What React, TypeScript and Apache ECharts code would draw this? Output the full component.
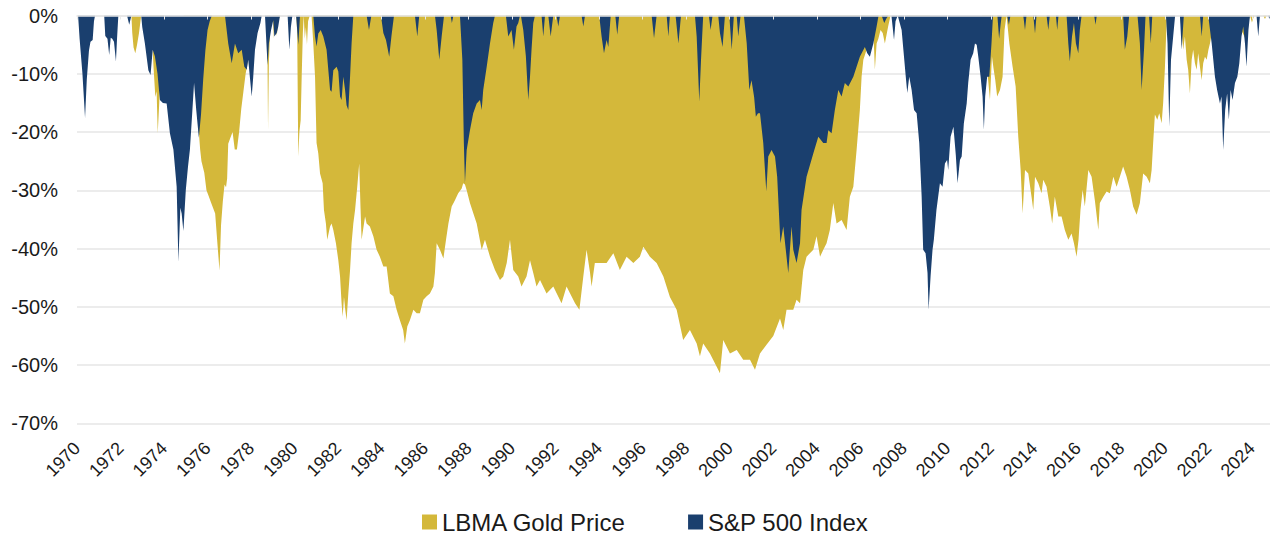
import React, { useEffect, useRef } from "react";
import * as echarts from "echarts";

// ---- Data (drawdown from previous peak, %) ----
const SERIES_NAMES = ["LBMA Gold Price", "S&P 500 Index"];
const X_MIN = 1970;
const X_MAX = 2024.83;
const X_TICK_STEP = 2;
const Y_MIN = -70;
const Y_MAX = 0;
const Y_TICK_STEP = 10;

const GOLD: [number, number][] = [
  [1970.0, 0], [1972.5, 0], [1972.54, -3], [1972.6, -5.5], [1972.68, -6.5], [1972.76, -5], [1972.85, -3], [1972.95, 0],
  [1973.35, 0], [1973.45, -4], [1973.52, -9], [1973.6, -14], [1973.66, -13], [1973.71, -20.2], [1973.78, -15], [1973.84, -10], [1973.92, -4], [1974.0, 0],
  [1974.9, 0], [1975.1, -4], [1975.3, -8], [1975.4, -10], [1975.5, -14], [1975.6, -20], [1975.66, -23], [1975.72, -25],
  [1975.85, -27], [1975.95, -30], [1976.05, -31], [1976.15, -32], [1976.25, -33], [1976.35, -34], [1976.45, -39], [1976.55, -43.8],
  [1976.62, -36], [1976.7, -32], [1976.78, -29], [1976.85, -29.5], [1976.9, -28], [1976.95, -22], [1977.05, -21], [1977.15, -20],
  [1977.25, -23], [1977.35, -23], [1977.45, -20], [1977.55, -16], [1977.65, -13], [1977.75, -10], [1977.85, -8], [1977.95, -6],
  [1978.1, -4], [1978.3, -2], [1978.45, 0],
  [1978.74, 0], [1978.78, -19.6], [1978.82, -8], [1978.87, -3], [1978.9, 0],
  [1979.0, 0], [1979.05, -4], [1979.1, 0], [1979.13, 0], [1979.18, -3.5], [1979.25, -1], [1979.33, 0],
  [1980.08, 0], [1980.12, -3], [1980.17, -24.2], [1980.22, -20], [1980.28, -18], [1980.33, -10], [1980.38, -3], [1980.42, 0],
  [1980.47, -4], [1980.52, -2], [1980.57, -5], [1980.62, -1], [1980.7, 0], [1980.78, 0],
  [1980.86, -4.8], [1980.94, -10.5], [1981.01, -21.9], [1981.09, -23.7], [1981.17, -27.1], [1981.29, -28.8], [1981.35, -33.4],
  [1981.44, -35.7], [1981.5, -38.5], [1981.63, -36.2], [1981.7, -35.7], [1981.78, -36.8], [1981.9, -39.1], [1982.01, -42],
  [1982.09, -44.8], [1982.16, -49.4], [1982.21, -51.7], [1982.27, -48.3], [1982.33, -50.5], [1982.39, -52.3], [1982.47, -47.7],
  [1982.55, -43.7], [1982.62, -39.1], [1982.7, -35.7], [1982.78, -33.4], [1982.88, -29.4], [1982.97, -25.4], [1983.03, -33],
  [1983.08, -38.5], [1983.24, -34.5], [1983.31, -35.7], [1983.46, -36.2], [1983.62, -37.9], [1983.77, -40.2], [1983.92, -41.4],
  [1984.08, -43.1], [1984.23, -43.1], [1984.38, -47.7], [1984.54, -48.2], [1984.69, -50.5], [1984.84, -52.3], [1984.99, -54],
  [1985.07, -56.3], [1985.18, -53.4], [1985.3, -52.3], [1985.46, -50.5], [1985.61, -51.1], [1985.76, -51.1], [1985.92, -48.8],
  [1986.07, -48.2], [1986.22, -47.7], [1986.38, -46.5], [1986.45, -44.2], [1986.53, -39.1], [1986.68, -40.2], [1986.84, -41.7],
  [1986.96, -38.5], [1987.07, -35.7], [1987.22, -32.8], [1987.37, -31.7], [1987.52, -30.5], [1987.68, -29.7], [1987.75, -28.8],
  [1987.83, -29], [1987.91, -30], [1988.06, -32.2], [1988.21, -33.9], [1988.37, -35.7], [1988.6, -40.2], [1988.75, -38.5],
  [1988.98, -41.4], [1989.21, -43.7], [1989.44, -45.4], [1989.59, -44.8], [1989.75, -42.5], [1989.9, -38.5], [1990.05, -43.7],
  [1990.28, -44.8], [1990.43, -46.5], [1990.66, -44.8], [1990.82, -42], [1990.97, -44.2], [1991.12, -46.5], [1991.28, -45.4],
  [1991.58, -47.7], [1991.89, -46.5], [1992.27, -49.4], [1992.5, -46.5], [1992.89, -49.4], [1993.09, -50.5], [1993.27, -44.8],
  [1993.42, -40.2], [1993.58, -44.2], [1993.65, -46.5], [1993.8, -42.5], [1994.03, -42.5], [1994.34, -42.5], [1994.65, -40.8],
  [1994.95, -43.7], [1995.26, -41.4], [1995.57, -42.5], [1995.87, -41.4], [1996.03, -39.7], [1996.33, -41.4], [1996.64, -42.5],
  [1996.95, -44.8], [1997.25, -48.3], [1997.56, -50.5], [1997.86, -55.7], [1998.17, -54], [1998.48, -56.3], [1998.63, -58.5],
  [1998.78, -56.3], [1999.09, -58], [1999.4, -60.3], [1999.55, -61.4], [1999.7, -55.7], [2000.01, -58], [2000.32, -57.4],
  [2000.62, -59.1], [2000.93, -59.1], [2001.16, -60.8], [2001.39, -58], [2001.69, -56.5], [2002.0, -55], [2002.31, -52],
  [2002.46, -54], [2002.61, -50.5], [2002.92, -50.5], [2003.07, -48.8], [2003.23, -49.4], [2003.38, -43.7], [2003.53, -41.4],
  [2003.84, -40.2], [2003.99, -37.9], [2004.15, -41.4], [2004.3, -40.2], [2004.45, -39.1], [2004.6, -36.8], [2004.76, -32.2],
  [2004.91, -35.7], [2005.14, -35.1], [2005.37, -36.8], [2005.52, -31.1], [2005.68, -29.4], [2005.83, -23.1], [2005.98, -16.2],
  [2006.06, -10.5], [2006.14, -7.6], [2006.29, -5.9], [2006.44, -4.8], [2006.6, -2.5], [2006.67, -9.3], [2006.75, -4.8],
  [2006.83, -4], [2006.93, -2.5], [2007.03, -3], [2007.13, -4.8], [2007.28, -1.9], [2007.39, 0],
  [2008.15, 0], [2008.4, -8], [2008.55, -2], [2008.7, -12], [2008.82, -22], [2008.95, -15], [2009.1, -5], [2009.2, 0],
  [2011.6, 0], [2011.7, -5], [2011.85, -10], [2011.96, -14.5], [2012.05, -7], [2012.12, -9], [2012.2, -11], [2012.29, -13.9],
  [2012.42, -12.8], [2012.54, -10.5], [2012.63, -2.5], [2012.72, 0], [2012.85, -4.8], [2013.0, -8.8], [2013.14, -12.2],
  [2013.26, -20.8], [2013.37, -26.5], [2013.46, -34], [2013.57, -26.5], [2013.72, -27.1], [2013.87, -31.1], [2013.95, -33.4],
  [2014.03, -27.7], [2014.18, -28.8], [2014.33, -30.5], [2014.41, -28.2], [2014.56, -29.4], [2014.71, -32.8], [2014.82, -35.7],
  [2014.94, -31.1], [2015.1, -34.5], [2015.25, -34.5], [2015.4, -36.8], [2015.56, -38.5], [2015.71, -37.4], [2015.82, -39.1],
  [2015.94, -41.4], [2016.03, -38.5], [2016.12, -33.4], [2016.22, -29.9], [2016.32, -32.8], [2016.48, -26.5], [2016.63, -27.7],
  [2016.78, -31.7], [2016.94, -36.8], [2017.01, -32.2], [2017.17, -31.1], [2017.32, -30.2], [2017.47, -30.5], [2017.63, -27.7],
  [2017.78, -29.4], [2017.93, -27.7], [2018.08, -25.9], [2018.24, -27.7], [2018.39, -29.9], [2018.54, -32.8], [2018.7, -34.2],
  [2018.85, -32.2], [2019.0, -27.1], [2019.16, -27.7], [2019.31, -28.8], [2019.39, -26.5], [2019.46, -21.9], [2019.54, -17],
  [2019.65, -17.9], [2019.74, -16.8], [2019.85, -18.5], [2019.92, -15], [2020.0, -9], [2020.06, -3], [2020.1, 0],
  [2020.69, 0], [2020.77, -2.5], [2020.84, -5.9], [2020.92, -3.6], [2021.0, -7.6], [2021.07, -9.3], [2021.15, -13.4],
  [2021.23, -7.6], [2021.3, -5.9], [2021.38, -8.2], [2021.46, -9.3], [2021.53, -6.5], [2021.61, -8.8], [2021.69, -11.1],
  [2021.76, -8.2], [2021.84, -7.1], [2021.92, -7.6], [2022.0, -5.9], [2022.07, -4.8], [2022.2, -2], [2022.35, -4],
  [2022.5, -8], [2022.68, -15], [2022.8, -12], [2022.95, -6], [2023.1, -2], [2023.3, 0], [2023.45, -2], [2023.7, -4],
  [2023.85, -1], [2023.91, 0], [2024.0, -1.2], [2024.1, 0], [2024.52, 0], [2024.6, -0.6], [2024.67, 0], [2024.83, 0],
];

const SP500: [number, number][] = [
  [1970.0, 0], [1970.05, 0], [1970.12, -4], [1970.25, -10], [1970.37, -17.6], [1970.45, -11], [1970.55, -6], [1970.62, -4.5],
  [1970.72, -4.2], [1970.78, -1], [1970.83, 0],
  [1971.25, 0], [1971.3, -3.5], [1971.4, -4], [1971.48, -6.8], [1971.55, -3.8], [1971.62, -4], [1971.7, -4.5], [1971.79, -7.9],
  [1971.84, -4], [1971.9, 0],
  [1972.3, 0], [1972.4, -1.6], [1972.5, 0],
  [1972.95, 0], [1973.0, -2], [1973.12, -4.8], [1973.28, -9.4], [1973.38, -10.2], [1973.48, -5.9], [1973.58, -7], [1973.7, -10],
  [1973.81, -14.5], [1973.95, -15], [1974.12, -15.1], [1974.27, -20.2], [1974.43, -23], [1974.58, -29.4], [1974.66, -42.3],
  [1974.75, -33], [1974.81, -34], [1974.89, -37], [1975.0, -30], [1975.1, -26], [1975.19, -23], [1975.3, -16.5], [1975.38, -11.6],
  [1975.48, -16.2], [1975.6, -21], [1975.7, -17], [1975.8, -11], [1975.9, -6], [1976.0, -2.5], [1976.1, -1], [1976.2, 0],
  [1976.8, 0], [1976.95, -4.8], [1977.11, -8.2], [1977.26, -4.8], [1977.41, -6.5], [1977.57, -5.9], [1977.69, -8.8], [1977.8, -9.3],
  [1977.87, -7.6], [1978.03, -13.9], [1978.1, -10.5], [1978.18, -5.9], [1978.3, -3], [1978.43, -1.3], [1978.49, 0],
  [1978.64, 0], [1978.72, -5.9], [1978.76, -8.5], [1978.82, -4.8], [1978.92, -2.5], [1979.02, -0.8], [1979.07, -3.6],
  [1979.18, -3], [1979.25, -1.9], [1979.33, 0],
  [1979.68, 0], [1979.76, -5.9], [1979.83, -2], [1979.9, 0],
  [1980.07, 0], [1980.17, -5], [1980.25, 0],
  [1980.86, 0], [1980.94, -3.6], [1981.01, -5.3], [1981.09, -3.1], [1981.2, -2.5], [1981.32, -3.6], [1981.47, -5.9],
  [1981.63, -12.8], [1981.7, -13.1], [1981.78, -9.4], [1981.93, -8.8], [1982.01, -9.6], [1982.09, -13.9], [1982.16, -14.5],
  [1982.24, -10.5], [1982.32, -12.8], [1982.39, -15.4], [1982.47, -16.2], [1982.55, -10.5], [1982.62, -4.8], [1982.7, 0],
  [1983.31, 0], [1983.42, -2.5], [1983.53, 0],
  [1983.97, 0], [1984.08, -3], [1984.2, -4.2], [1984.35, -7.1], [1984.45, -3.6], [1984.57, 0],
  [1985.53, 0], [1985.64, -3.6], [1985.73, 0],
  [1986.45, 0], [1986.53, -2.5], [1986.65, -7.6], [1986.76, -3.6], [1986.87, 0],
  [1987.17, 0], [1987.23, -1.3], [1987.3, 0],
  [1987.6, 0], [1987.71, -7.6], [1987.78, -21.9], [1987.83, -28.8], [1987.91, -23.1], [1988.06, -19.7], [1988.21, -16.8],
  [1988.37, -15.1], [1988.52, -14.5], [1988.6, -16.2], [1988.67, -12.8], [1988.83, -8.8], [1988.98, -4.8], [1989.13, -1.3], [1989.21, 0],
  [1989.71, 0], [1989.82, -3.6], [1989.97, -2.5], [1990.08, -5.9], [1990.2, -1.9], [1990.28, -1.3], [1990.36, 0],
  [1990.4, 0], [1990.51, -2.5], [1990.63, -7], [1990.74, -14.5], [1990.82, -10.5], [1990.89, -5.9], [1990.97, -1.3], [1991.05, 0],
  [1991.35, 0], [1991.43, -3.6], [1991.51, 0],
  [1991.66, 0], [1991.77, -3.6], [1991.89, 0],
  [1992.04, 0], [1992.12, -1.9], [1992.2, 0],
  [1993.19, 0], [1993.27, -1.9], [1993.35, 0],
  [1994.0, 0], [1994.11, -3.6], [1994.22, -6.5], [1994.34, -4.2], [1994.42, -5.4], [1994.53, 0],
  [1994.74, 0], [1994.83, -3.3], [1994.92, 0],
  [1996.41, 0], [1996.52, -3.9], [1996.64, 0],
  [1997.1, 0], [1997.18, -3.6], [1997.25, 0],
  [1997.51, 0], [1997.64, -4.8], [1997.76, 0],
  [1998.4, 0], [1998.48, -3.6], [1998.6, -14.8], [1998.68, -7.6], [1998.78, 0],
  [1999.04, 0], [1999.12, -2.5], [1999.21, 0],
  [1999.47, 0], [1999.55, -3], [1999.67, -5.4], [1999.78, 0],
  [1999.98, 0], [2000.09, -5.9], [2000.19, 0],
  [2000.32, 0], [2000.39, -3.6], [2000.5, 0],
  [2000.65, 0], [2000.78, -4.8], [2000.9, -12.8], [2001.0, -11.1], [2001.12, -14], [2001.2, -17.4], [2001.3, -16.8],
  [2001.39, -16.8], [2001.54, -21.9], [2001.68, -30.2], [2001.77, -24.2], [2001.92, -23.1], [2002.08, -24.2], [2002.18, -27.7],
  [2002.33, -39.1], [2002.46, -36.2], [2002.69, -44.2], [2002.84, -36.2], [2002.92, -40.2], [2003.07, -42.5], [2003.23, -39.1],
  [2003.3, -33.4], [2003.53, -27.7], [2003.84, -23.7], [2004.07, -20.8], [2004.3, -21.9], [2004.45, -21.9], [2004.53, -19.7],
  [2004.68, -20.2], [2004.83, -16.2], [2004.99, -12.8], [2005.14, -13.9], [2005.29, -11.6], [2005.45, -12.2], [2005.68, -10.5],
  [2005.83, -8.8], [2005.98, -7.1], [2006.21, -5.4], [2006.32, -6.5], [2006.44, -7.1], [2006.6, -4.8], [2006.75, -1.9], [2006.84, 0],
  [2006.98, 0], [2007.1, -1.3], [2007.2, -0.5], [2007.29, 0],
  [2007.43, 0], [2007.55, -4.2], [2007.62, -1], [2007.72, 0],
  [2007.9, -2.5], [2007.98, -5.9], [2008.09, -10.5], [2008.16, -13.3], [2008.25, -10.5], [2008.36, -12.8], [2008.47, -16.2],
  [2008.59, -16.8], [2008.71, -21.9], [2008.82, -31.1], [2008.89, -40.2], [2009.0, -40.8], [2009.09, -44.2], [2009.14, -50.5],
  [2009.23, -44.8], [2009.32, -40.2], [2009.38, -38.5], [2009.5, -33.4], [2009.66, -28.8], [2009.78, -29.4], [2009.89, -25.4],
  [2009.99, -24.8], [2010.04, -26.5], [2010.15, -20.8], [2010.28, -19.1], [2010.39, -24], [2010.47, -28.8], [2010.58, -24.8],
  [2010.66, -24.2], [2010.76, -18.5], [2010.89, -15.1], [2010.96, -11.6], [2011.07, -7.6], [2011.19, -6.5], [2011.27, -4.8],
  [2011.35, -5], [2011.42, -7], [2011.53, -10.5], [2011.62, -13.9], [2011.68, -19.6], [2011.74, -13.9], [2011.83, -10.5],
  [2011.93, -10.5], [2012.03, -4.8], [2012.1, 0],
  [2012.3, 0], [2012.38, -4], [2012.45, -1.5], [2012.5, 0],
  [2012.75, 0], [2012.83, -1.6], [2012.9, 0],
  [2013.49, 0], [2013.57, -2.5], [2013.64, 0],
  [2013.95, 0], [2014.03, -3.1], [2014.1, 0],
  [2014.56, 0], [2014.64, -2.5], [2014.71, 0],
  [2014.99, 0], [2015.05, -2.5], [2015.11, 0],
  [2015.48, 0], [2015.56, -4.8], [2015.63, -7.9], [2015.73, -3.6], [2015.82, -1.3], [2015.91, -4.8], [2016.02, -6.5],
  [2016.09, -2.5], [2016.17, 0],
  [2016.75, 0], [2016.81, -1.6], [2016.87, 0],
  [2018.08, 0], [2018.16, -5.9], [2018.27, -3.6], [2018.36, 0],
  [2018.74, 0], [2018.85, -4.8], [2018.93, -12.8], [2019.04, -5.9], [2019.11, 0],
  [2019.27, 0], [2019.35, -4.8], [2019.42, 0],
  [2020.05, 0], [2020.12, -4.8], [2020.2, -19.1], [2020.28, -7.6], [2020.38, -3.6], [2020.47, 0],
  [2020.69, 0], [2020.77, -5.9], [2020.87, 0],
  [2021.61, 0], [2021.69, -3.6], [2021.76, 0],
  [2021.99, 0], [2022.15, -4.8], [2022.3, -10.5], [2022.4, -12.8], [2022.53, -15.1], [2022.6, -13.9], [2022.68, -23.1],
  [2022.77, -16.2], [2022.86, -13.4], [2022.94, -17.9], [2023.02, -12.8], [2023.11, -14.5], [2023.22, -11.6], [2023.33, -10.5],
  [2023.42, -8.2], [2023.52, -3.6], [2023.6, -1.9], [2023.68, -4.8], [2023.75, -8.8], [2023.84, -2.5], [2023.91, 0],
  [2024.21, 0], [2024.29, -3.6], [2024.37, 0],
  [2024.75, 0], [2024.8, -0.6], [2024.83, 0],
];

const COLORS = ["#D4B83A", "#1A3F6E"];
const FONT = "'Liberation Sans', Arial, Helvetica, sans-serif";

export default function App() {
  const ref = useRef<HTMLDivElement>(null);

  useEffect(() => {
    if (!ref.current) return;
    const chart = echarts.init(ref.current, null, { renderer: "svg" });
    const option: any = {
      animation: false,
      backgroundColor: "#ffffff",
      color: COLORS,
      grid: { left: 77, right: 0, top: 15.5, bottom: 112.7, containLabel: false },
      legend: {
        data: SERIES_NAMES,
        left: 417,
        top: 505,
        icon: "rect",
        itemWidth: 15,
        itemHeight: 15,
        itemGap: 62,
        textStyle: { fontFamily: FONT, fontSize: 24, lineHeight: 24, color: "#1a1a1a" },
      },
      xAxis: [
        {
          type: "value",
          position: "bottom",
          min: X_MIN,
          max: X_MAX,
          interval: X_TICK_STEP,
          axisLine: { show: false },
          axisTick: { show: false },
          splitLine: { show: false },
          axisLabel: {
            rotate: 45,
            margin: 22,
            fontFamily: FONT,
            fontSize: 18,
            color: "#1a1a1a",
            showMaxLabel: false,
            formatter: (v: number) => (Number.isInteger(v) ? String(v) : ""),
          },
        },
        {
          type: "value",
          position: "top",
          min: X_MIN,
          max: X_MAX,
          interval: X_TICK_STEP,
          z: 5,
          axisLine: { show: true, onZero: false, lineStyle: { color: "#e6e6e6", width: 1.5 } },
          axisTick: { show: true, inside: true, length: 4, lineStyle: { color: "#e8e8e8", width: 1 } },
          axisLabel: { show: false },
          splitLine: { show: false },
        },
      ],
      yAxis: {
        type: "value",
        min: Y_MIN,
        max: Y_MAX,
        interval: Y_TICK_STEP,
        axisLine: { show: false },
        axisTick: { show: false },
        splitLine: { show: true, lineStyle: { color: "#e6e6e6", width: 1.5 } },
        axisLabel: {
          margin: 19,
          fontFamily: FONT,
          fontSize: 20,
          color: "#1a1a1a",
          formatter: (v: number) => `${v}%`,
        },
      },
      series: [
        {
          name: SERIES_NAMES[0],
          type: "line",
          xAxisIndex: 0,
          data: GOLD,
          showSymbol: false,
          symbol: "none",
          lineStyle: { width: 0 },
          areaStyle: { color: COLORS[0], opacity: 1 },
          itemStyle: { color: COLORS[0] },
          silent: true,
          z: 2,
        },
        {
          name: SERIES_NAMES[1],
          type: "line",
          xAxisIndex: 0,
          data: SP500,
          showSymbol: false,
          symbol: "none",
          lineStyle: { width: 0 },
          areaStyle: { color: COLORS[1], opacity: 1 },
          itemStyle: { color: COLORS[1] },
          silent: true,
          z: 3,
        },
      ],
    };
    chart.setOption(option);
    return () => chart.dispose();
  }, []);

  return (
    <div
      ref={ref}
      style={{ position: "absolute", left: 0, top: 0, width: 1270, height: 536, background: "#fff" }}
    />
  );
}
